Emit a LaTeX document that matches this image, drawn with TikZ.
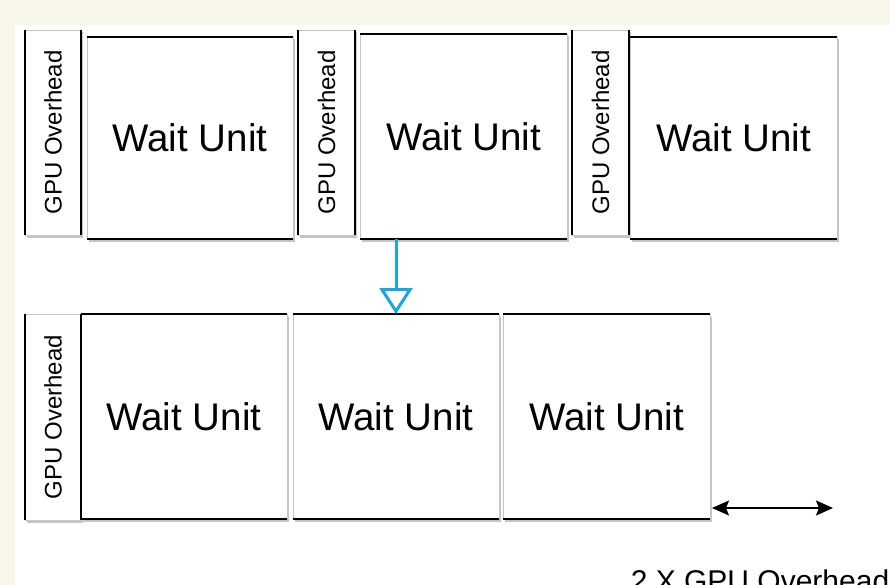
\documentclass[tikz,border=0pt]{standalone}
\usepackage{fontspec}
\setmainfont{Liberation Sans}
\usetikzlibrary{arrows.meta,shadows,calc}
\definecolor{cream}{RGB}{248,246,232}
\definecolor{arrowblue}{RGB}{22,168,228}
\tikzset{
  boxbase/.style={draw=gray!45, line width=0.6pt, fill=white, inner sep=0pt, outer sep=0pt,
    drop shadow={shadow xshift=1.5pt, shadow yshift=-2.5pt, opacity=0.45, fill=gray}},
  wu/.style={boxbase, minimum width=206pt, minimum height=204pt, font=\fontsize{38.5}{38.5}\selectfont},
  gpu/.style={boxbase, minimum width=56pt, minimum height=205pt},
  gputext/.style={rotate=90, font=\fontsize{24}{24}\selectfont, inner sep=0pt},
  blk/.style={line width=2.2pt, black},
  bluearrow/.style={arrowblue, line width=3pt, -{Triangle[open, length=26pt, width=33pt]}},
  dimarrow/.style={black, line width=2pt, {Stealth[length=17pt,width=15pt,inset=3pt]}-{Stealth[length=17pt,width=15pt,inset=3pt]}}
}
\begin{document}
\begin{tikzpicture}[x=1pt,y=-1pt]
\useasboundingbox (0,0) rectangle (890,585);
\fill[cream] (0,0) rectangle (890,585);
\fill[white] (15,25) rectangle (890,585);

% row 1
\node[gpu] (g1) at (53,132.5) {};
\node[gputext] (g1t) at (g1.center) {GPU Overhead};
\node[wu, minimum height=202pt] (w1) at (190,138) {Wait Unit};
\node[gpu, minimum width=57pt] (g2) at (326.5,132.5) {};
\node[gputext] (g2t) at (g2.center) {GPU Overhead};
\node[wu, minimum width=207pt, minimum height=205pt] (w2) at (463.5,136.5) {Wait Unit};
\node[gpu, minimum width=57pt] (g3) at (600.5,132.5) {};
\node[gputext] (g3t) at (g3.center) {GPU Overhead};
\node[wu, minimum width=207pt, minimum height=202pt] (w3) at (733.5,138) {Wait Unit};

% row 2
\node[gpu, minimum height=206pt] (g4) at (53,417) {};
\node[gputext] (g4t) at (g4.center) {GPU Overhead};
\node[wu, minimum height=205pt] (w4) at (184,416.5) {Wait Unit};
\node[wu, minimum height=205pt] (w5) at (396,416.5) {Wait Unit};
\node[wu, minimum width=207pt, minimum height=205pt] (w6) at (606.5,416.5) {Wait Unit};

% heavy edges
\foreach \n in {g1,g2,g3,g4} {
  \draw[blk] (\n.north west) -- (\n.south west);
  \draw[blk] (\n.north east) -- (\n.south east);
}
\foreach \n in {w1,w2,w3,w4,w5,w6} {
  \draw[blk] (\n.north west) -- (\n.north east);
  \draw[blk] (\n.south west) -- (\n.south east);
}
\draw[black, line width=1.2pt] (w4.north west) -- (w4.south west);

% blue arrow
\draw[bluearrow] (w2.south -| w5.north) -- (w5.north);

% dimension arrow
\coordinate (d1) at ($(w6.south east)+(2,-11)$);
\coordinate (d2) at (833,508);
\draw[dimarrow] (d1) -- (d2);

\node[anchor=base, font=\fontsize{30}{30}\selectfont, inner sep=0pt] (lbl) at (760,591) {2 X GPU Overhead};
\end{tikzpicture}
\end{document}
